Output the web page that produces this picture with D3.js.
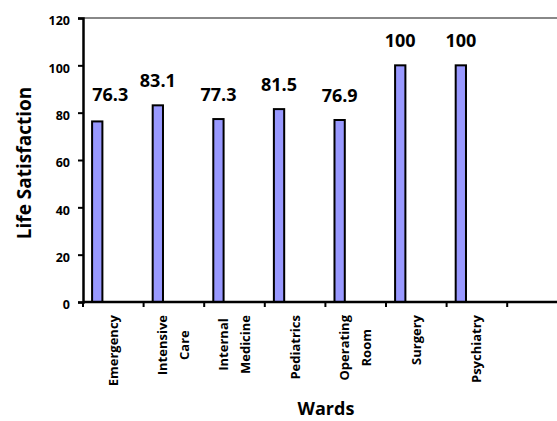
<!DOCTYPE html>
<html>
<head>
<meta charset="UTF-8">
<title></title>
<style type="text/css">
  body { margin: 0; background: #fff; overflow: hidden; }
  svg { display: block; }
  text { font-family: "Open Sans", "Noto Sans", sans-serif; font-weight: bold; fill: #000; }
</style>
</head>
<body>
<div class="chart"></div>
<script src="https://cdn.jsdelivr.net/npm/d3@7"></script>
<script type="text/javascript">
// data
var wards = ["Emergency", "Intensive Care", "Internal Medicine", "Pediatrics", "Operating Room", "Surgery", "Psychiatry", ""];
var wardLines = [["Emergency"], ["Intensive", "Care"], ["Internal", "Medicine"], ["Pediatrics"], ["Operating", "Room"], ["Surgery"], ["Psychiatry"], []];
var satisfaction = [76.3, 83.1, 77.3, 81.5, 76.9, 100, 100];
var yTicks = [0, 20, 40, 60, 80, 100, 120];

var width = 557, height = 421;
var plotLeft = 83, plotTop = 18, plotBottom = 302;

var svg = d3.select(".chart").append("svg")
  .attr("width", width)
  .attr("height", height);

var x = d3.scaleBand().domain(wards).range([plotLeft, plotLeft + 8 * 60.6]).padding(0);
var y = d3.scaleLinear().domain([0, 120]).range([plotBottom, plotTop]);
var bw = x.bandwidth();

// top border line
svg.append("line")
  .attr("x1", plotLeft).attr("x2", width)
  .attr("y1", y(120)).attr("y2", y(120))
  .attr("stroke", "#888").attr("stroke-width", 2);

// bars
svg.selectAll("rect.bar")
  .data(satisfaction)
  .enter().append("rect")
  .attr("class", "bar")
  .attr("x", function(d, i) { return x(wards[i]) + bw * 0.15; })
  .attr("y", function(d) { return y(d); })
  .attr("width", bw * 0.17)
  .attr("height", function(d) { return y(0) - y(d); })
  .attr("fill", "#9999ff")
  .attr("stroke", "#000")
  .attr("stroke-width", 2);

// value labels
svg.selectAll("text.val")
  .data(satisfaction)
  .enter().append("text")
  .attr("class", "val")
  .attr("x", function(d, i) { return x(wards[i]) + bw * 0.235 + (i == 0 ? 13 : 0); })
  .attr("y", function(d, i) { return y(d) - 18.5 - (i == 0 ? 2 : 0); })
  .attr("text-anchor", "middle")
  .style("font-size", "18px")
  .text(function(d) { return d; });

// y axis
var yAxis = d3.axisLeft(y).tickValues(yTicks).tickSize(5).tickPadding(8);
var gy = svg.append("g").attr("transform", "translate(" + plotLeft + ",0)").call(yAxis);
gy.select(".domain").attr("stroke", "#000").attr("stroke-width", 2.5);
gy.selectAll(".tick line").attr("stroke", "#000").attr("stroke-width", 2);
gy.selectAll(".tick text").attr("dy", "0.55em").style("font-size", "12.5px");
gy.attr("font-family", null).attr("font-size", null);

// x axis (ticks on band edges)
svg.append("line")
  .attr("x1", plotLeft).attr("x2", width)
  .attr("y1", plotBottom).attr("y2", plotBottom)
  .attr("stroke", "#000").attr("stroke-width", 2.5);
svg.selectAll("line.xtick")
  .data(wards)
  .enter().append("line")
  .attr("class", "xtick")
  .attr("x1", function(d) { return x(d); }).attr("x2", function(d) { return x(d); })
  .attr("y1", plotBottom).attr("y2", plotBottom + 5)
  .attr("stroke", "#000").attr("stroke-width", 2);

// x category labels, rotated, block anchored at top
var labelTop = 315, lineGap = 22;
wardLines.forEach(function(lines, i) {
  if (!lines.length) return;
  var cx = x(wards[i]) + bw / 2;
  var g = svg.append("g");
  var ts = lines.map(function(s) {
    return g.append("text")
      .style("font-size", "13px")
      .attr("text-anchor", "middle")
      .text(s);
  });
  var maxLen = d3.max(ts, function(t) { return t.node().getComputedTextLength(); });
  var cy = labelTop + maxLen / 2;
  ts.forEach(function(t, j) {
    var bx = cx + (j - (lines.length - 1) / 2) * lineGap + 4.5;
    t.attr("transform", "translate(" + bx + "," + cy + ") rotate(-90)");
  });
});

// axis titles
svg.append("text")
  .attr("transform", "translate(31,163) rotate(-90)")
  .attr("text-anchor", "middle")
  .style("font-size", "19px")
  .text("Life Satisfaction");

svg.append("text")
  .attr("x", 326).attr("y", 415)
  .attr("text-anchor", "middle")
  .style("font-size", "18px")
  .text("Wards");
</script>
</body>
</html>
